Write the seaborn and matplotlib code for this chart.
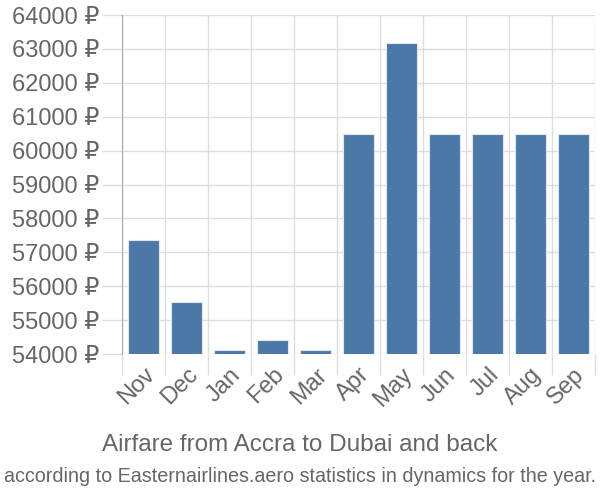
import numpy as np
import pandas as pd
import matplotlib
matplotlib.use("Agg")
import matplotlib.pyplot as plt
import seaborn as sns

# values
months = ["Nov", "Dec", "Jan", "Feb", "Mar", "Apr", "May", "Jun", "Jul", "Aug", "Sep"]
prices = [57370, 55520, 54130, 54400, 54130, 60490, 63160, 60490, 60490, 60490, 60490]
yticks = list(range(54000, 64001, 1000))

title = "Airfare from Accra to Dubai and back"
subtitle = "according to Easternairlines.aero statistics in dynamics for the year."

df = pd.DataFrame({"month": months, "price": prices})

sns.set_style("white")
plt.rcParams["font.family"] = ["Liberation Sans", "DejaVu Sans"]

grey = "#666666"
gridc = "#dddddd"

fig = plt.figure(figsize=(6, 5), dpi=100)
ax = fig.add_axes([122 / 600, 1 - 354 / 500, 473 / 600, 339 / 500])

sns.barplot(data=df, x="month", y="price", color="#4c78a8", saturation=1,
            width=0.72, edgecolor="#dfe7f1", linewidth=0.8, ax=ax, zorder=3)

ax.set_ylim(54000, 64000)
ax.set_xlim(-0.5, len(months) - 0.5)
ax.set_xlabel("")
ax.set_ylabel("")

# y axis: grid + long tick marks
ax.set_yticks(yticks)
ax.set_yticklabels([f"{v} ₽" for v in yticks], fontsize=17, color=grey)
ax.tick_params(axis="y", length=14.5, width=1, color=gridc, pad=2, left=True)
ax.yaxis.grid(True, color=gridc, linewidth=1, zorder=0)

# x axis: labels at bar centers, grid/ticks on category boundaries
ax.set_xticks(range(len(months)))
ax.set_xticklabels(months, rotation=45, ha="right", rotation_mode="anchor",
                   fontsize=17, color=grey)
ax.tick_params(axis="x", which="major", length=0, pad=7)
ax.set_xticks(np.arange(-0.5, len(months)), minor=True)
ax.tick_params(axis="x", which="minor", length=15, width=1, color=gridc, bottom=True)
ax.xaxis.grid(True, which="minor", color=gridc, linewidth=1, zorder=0)
ax.set_axisbelow(True)

for s in ["top", "right", "bottom"]:
    ax.spines[s].set_visible(False)
ax.spines["left"].set_color("#aaaaaa")
ax.spines["left"].set_bounds(54000, 64000)

fig.text(0.5, 1 - 445 / 500, title, ha="center", va="center", fontsize=17.5, color=grey)
fig.text(0.5, 1 - 476 / 500, subtitle, ha="center", va="center", fontsize=14.2, color=grey)

fig.savefig("out.png", dpi=100)
